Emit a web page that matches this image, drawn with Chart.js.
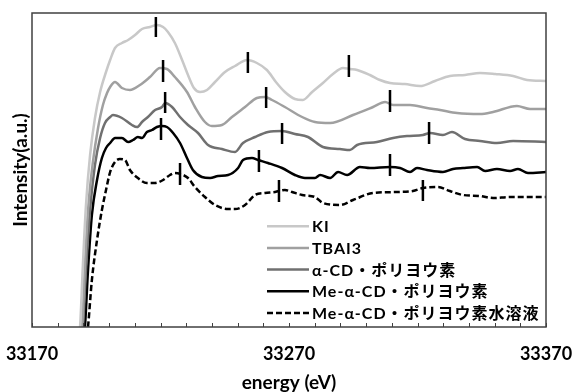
<!DOCTYPE html>
<html>
<head>
<meta charset="utf-8">
<script src="https://cdn.jsdelivr.net/npm/chart.js@4.4.1/dist/chart.umd.min.js"></script>
<style>
  html, body { margin: 0; padding: 0; background: #fff; }
  #wrap { width: 572px; height: 392px; }
</style>
</head>
<body>
<div id="wrap"><canvas id="xanesChart" width="572" height="392"></canvas></div>
<script>
// energies (eV) and normalised intensities (a.u., offset per sample)
const kiE = [33187.9, 33188.7, 33189.8, 33191.0, 33192.6, 33194.5, 33196.5, 33198.8, 33200.4, 33202.3,
    33205.0, 33207.4, 33210.1, 33212.8, 33215.9, 33218.6, 33221.0, 33222.9, 33225.6, 33228.4,
    33230.7, 33233.0, 33235.4, 33238.1, 33241.2, 33245.1, 33249.0, 33253.7, 33257.5, 33261.4,
    33264.9, 33268.4, 33272.3, 33275.4, 33279.0, 33283.2, 33287.1, 33291.0, 33293.7, 33296.5,
    33301.5, 33305.4, 33309.3, 33315.1, 33321.0, 33326.8, 33332.6, 33338.5, 33344.3, 33350.2,
    33357.2, 33362.6, 33370.0];
const kiI = [-0.18, 0, 0.62, 1.22, 1.72, 2.09, 2.35, 2.55, 2.67, 2.79,
    2.84, 2.87, 2.92, 2.98, 3.00, 3.02, 3.00, 2.95, 2.84, 2.67,
    2.52, 2.39, 2.35, 2.37, 2.45, 2.55, 2.61, 2.67, 2.64, 2.57,
    2.45, 2.35, 2.28, 2.27, 2.35, 2.44, 2.53, 2.59, 2.58, 2.57,
    2.52, 2.47, 2.44, 2.43, 2.41, 2.46, 2.51, 2.52, 2.54, 2.53,
    2.51, 2.47, 2.46];

const tbaE = [33188.7, 33189.5, 33190.6, 33191.8, 33193.7, 33195.7, 33197.6, 33199.2, 33200.4, 33202.3,
    33205.0, 33208.1, 33212.0, 33215.9, 33219.8, 33222.5, 33225.6, 33230.3, 33233.4, 33237.3,
    33240.0, 33243.9, 33247.8, 33252.9, 33257.5, 33260.7, 33263.4, 33268.4, 33275.1, 33280.1,
    33286.0, 33294.9, 33302.7, 33307.4, 33310.5, 33317.1, 33323.7, 33328.8, 33335.4, 33344.3,
    33349.4, 33358.7, 33363.8, 33370.0];
const tbaI = [-0.18, 0, 0.62, 1.17, 1.65, 1.99, 2.22, 2.34, 2.40, 2.45,
    2.39, 2.37, 2.42, 2.50, 2.59, 2.58, 2.50, 2.35, 2.20, 2.05,
    2.01, 2.02, 2.10, 2.20, 2.29, 2.30, 2.27, 2.20, 2.10, 2.05,
    2.04, 2.12, 2.20, 2.25, 2.22, 2.22, 2.19, 2.17, 2.14, 2.13,
    2.15, 2.21, 2.18, 2.18];

const acdE = [33189.1, 33189.8, 33191.0, 33192.6, 33194.5, 33196.5, 33198.4, 33200.4, 33201.5, 33205.0,
    33208.9, 33210.9, 33212.8, 33215.1, 33217.9, 33220.6, 33221.8, 33224.5, 33227.6, 33230.7,
    33234.6, 33238.5, 33243.9, 33249.0, 33252.1, 33256.8, 33261.8, 33267.3, 33272.3, 33277.4,
    33283.2, 33289.8, 33293.7, 33296.5, 33304.2, 33310.5, 33315.9, 33322.1, 33324.9, 33329.9,
    33333.4, 33338.5, 33344.3, 33350.9, 33357.2, 33370.0];
const acdI = [-0.18, 0, 0.57, 1.17, 1.62, 1.89, 2.04, 2.10, 2.12, 2.09,
    2.02, 2.00, 2.05, 2.10, 2.17, 2.20, 2.24, 2.20, 2.10, 2.02,
    1.94, 1.82, 1.78, 1.75, 1.84, 1.90, 1.95, 1.96, 1.93, 1.90,
    1.80, 1.78, 1.77, 1.82, 1.85, 1.89, 1.91, 1.92, 1.94, 1.92,
    1.95, 1.88, 1.86, 1.84, 1.86, 1.85];

const meE = [33189.8, 33190.6, 33191.8, 33193.3, 33195.3, 33197.2, 33198.8, 33200.4, 33202.3, 33205.0,
    33207.4, 33209.3, 33211.2, 33212.8, 33214.7, 33216.7, 33218.6, 33220.6, 33222.5, 33224.9,
    33227.6, 33230.3, 33232.6, 33236.1, 33239.3, 33242.4, 33246.3, 33250.2, 33252.1, 33255.6,
    33257.9, 33261.8, 33267.3, 33272.3, 33276.2, 33280.1, 33282.1, 33286.0, 33289.1, 33292.6,
    33297.6, 33301.5, 33309.3, 33313.2, 33317.1, 33319.8, 33323.7, 33329.9, 33333.8, 33337.7,
    33343.2, 33346.3, 33350.9, 33356.0, 33359.1, 33363.0, 33370.0];
const meI = [-0.18, 0, 0.57, 1.12, 1.47, 1.69, 1.79, 1.84, 1.89, 1.89,
    1.85, 1.87, 1.90, 1.89, 1.95, 1.97, 2.00, 2.01, 2.00, 1.94,
    1.84, 1.69, 1.57, 1.50, 1.49, 1.51, 1.52, 1.59, 1.67, 1.69,
    1.67, 1.64, 1.59, 1.52, 1.49, 1.49, 1.52, 1.49, 1.55, 1.52,
    1.60, 1.59, 1.60, 1.59, 1.55, 1.59, 1.57, 1.55, 1.58, 1.59,
    1.60, 1.56, 1.58, 1.56, 1.58, 1.54, 1.55];

const aqE = [33191.0, 33191.8, 33193.3, 33195.3, 33197.2, 33198.8, 33200.4, 33202.3, 33204.2, 33206.2,
    33208.1, 33211.2, 33214.7, 33217.9, 33221.0, 33223.7, 33225.6, 33228.8, 33230.7, 33233.4,
    33237.3, 33241.2, 33246.3, 33249.0, 33252.9, 33256.8, 33260.7, 33264.6, 33268.4, 33271.2,
    33275.1, 33280.1, 33283.2, 33289.8, 33294.9, 33302.7, 33312.0, 33318.2, 33322.1, 33328.0,
    33332.6, 33337.7, 33344.3, 33349.4, 33356.0, 33370.0];
const aqI = [-0.18, 0, 0.47, 0.87, 1.17, 1.37, 1.55, 1.65, 1.68, 1.67,
    1.57, 1.49, 1.44, 1.44, 1.47, 1.52, 1.54, 1.52, 1.49, 1.40,
    1.30, 1.22, 1.18, 1.18, 1.22, 1.32, 1.34, 1.35, 1.37, 1.35,
    1.32, 1.30, 1.24, 1.22, 1.27, 1.34, 1.35, 1.36, 1.39, 1.40,
    1.36, 1.32, 1.31, 1.29, 1.30, 1.30];

// short vertical peak markers: energy, upper end, lower end
const markerE = [33218.2, 33254.0, 33293.3, 33221.0, 33261.1, 33309.3, 33221.8, 33267.3, 33324.5,
    33220.2, 33258.3, 33309.3, 33227.6, 33266.1, 33322.1];
const markerTop = [3.10, 2.75, 2.72, 2.67, 2.40, 2.37, 2.35, 2.04, 2.05, 2.09, 1.77, 1.73, 1.64, 1.47, 1.47];
const markerBottom = [2.90, 2.54, 2.50, 2.45, 2.19, 2.15, 2.14, 1.83, 1.83, 1.87, 1.55, 1.51, 1.42, 1.25, 1.26];

const seriesNames = ["KI", "TBAI3", "α-CD・ポリヨウ素", "Me-α-CD・ポリヨウ素", "Me-α-CD・ポリヨウ素水溶液"];
const xTickLabels = [33170, 33270, 33370];

const toPoints = (xs, ys) => xs.map((x, i) => ({ x: x, y: ys[i] }));

const markerPoints = [];
markerE.forEach((e, i) => {
    markerPoints.push({ x: e, y: markerTop[i] });
    markerPoints.push({ x: e, y: markerBottom[i] });
    markerPoints.push({ x: e, y: null });
});

function curve(label, xs, ys, color, dash) {
    return {
        label: label,
        data: toPoints(xs, ys),
        borderColor: color,
        borderWidth: 2.5,
        borderDash: dash || [],
        pointRadius: 0,
        fill: false,
        cubicInterpolationMode: "monotone",
        clip: 0
    };
}

const datasets = [
    curve(seriesNames[0], kiE, kiI, "#c8c8c8"),
    curve(seriesNames[1], tbaE, tbaI, "#a0a0a0"),
    curve(seriesNames[2], acdE, acdI, "#707070"),
    curve(seriesNames[3], meE, meI, "#000000"),
    curve(seriesNames[4], aqE, aqI, "#000000", [6, 3]),
    {
        label: "peaks",
        data: markerPoints,
        borderColor: "#000000",
        borderWidth: 2.5,
        pointRadius: 0,
        tension: 0,
        spanGaps: false,
        order: -1,
        clip: 0
    }
];

const LABEL_FONT = 'bold 16px Lato, "Noto Sans", "Noto Sans CJK JP", sans-serif';

// frame, inward ticks and the in-plot legend
const framePlugin = {
    id: "frame",
    afterDraw(chart) {
        const { ctx, chartArea: a } = chart;
        const xs = chart.scales.x;
        ctx.save();
        ctx.strokeStyle = "#404040";
        ctx.lineWidth = 1;
        xs.ticks.forEach(t => {
            const px = Math.round(xs.getPixelForValue(t.value)) + 0.5;
            ctx.beginPath();
            ctx.moveTo(px, a.bottom);
            ctx.lineTo(px, a.bottom - 4);
            ctx.stroke();
        });
        ctx.lineWidth = 1.5;
        ctx.strokeRect(a.left, a.top, a.right - a.left, a.bottom - a.top);

        // legend
        ctx.font = LABEL_FONT;
        try { ctx.letterSpacing = "1px"; } catch (e) {}
        ctx.textBaseline = "middle";
        ctx.textAlign = "left";
        const x0 = a.left + 235;
        const rowH = 21.7;
        const yLast = a.bottom - 14;
        for (let i = 0; i < 5; i++) {
            const ds = chart.data.datasets[i];
            const y = yLast - (4 - i) * rowH;
            ctx.strokeStyle = ds.borderColor;
            ctx.lineWidth = 2.5;
            ctx.setLineDash(ds.borderDash || []);
            ctx.beginPath();
            ctx.moveTo(x0, y);
            ctx.lineTo(x0 + 42, y);
            ctx.stroke();
            ctx.setLineDash([]);
            ctx.fillStyle = "#000";
            ctx.fillText(ds.label, x0 + 45, y + 1);
        }
        ctx.restore();
    }
};

new Chart(document.getElementById("xanesChart"), {
    type: "line",
    data: { datasets: datasets },
    options: {
        responsive: false,
        animation: false,
        events: [],
        layout: { padding: { top: 13, right: 0, left: 0, bottom: 0 } },
        plugins: {
            legend: { display: false },
            tooltip: { enabled: false }
        },
        scales: {
            x: {
                type: "linear",
                min: 33170,
                max: 33370,
                grid: { display: false, drawTicks: false },
                border: { display: false },
                ticks: {
                    stepSize: 10,
                    autoSkip: false,
                    maxRotation: 0,
                    padding: 16,
                    color: "#000",
                    font: { family: "Lato", size: 18, weight: "bold" },
                    callback: v => xTickLabels.includes(v) ? String(v) : ""
                },
                title: {
                    display: true,
                    text: "energy (eV)",
                    color: "#000",
                    padding: 0,
                    font: { family: "Lato", size: 19, weight: "bold", lineHeight: 1 }
                },
                afterFit: s => {
                    s.height = 65;
                    s.paddingLeft = 0;
                    s.paddingRight = 26;
                }
            },
            y: {
                min: 0,
                max: 3.14,
                grid: { display: false, drawTicks: false },
                border: { display: false },
                ticks: { display: false },
                title: {
                    display: true,
                    text: "Intensity(a.u.)",
                    color: "#000",
                    padding: { top: 9, bottom: 0 },
                    font: { family: "Lato", size: 19, weight: "bold", lineHeight: 1.2 }
                },
                afterFit: s => { s.width = 32; }
            }
        }
    },
    plugins: [framePlugin]
});
</script>
</body>
</html>
